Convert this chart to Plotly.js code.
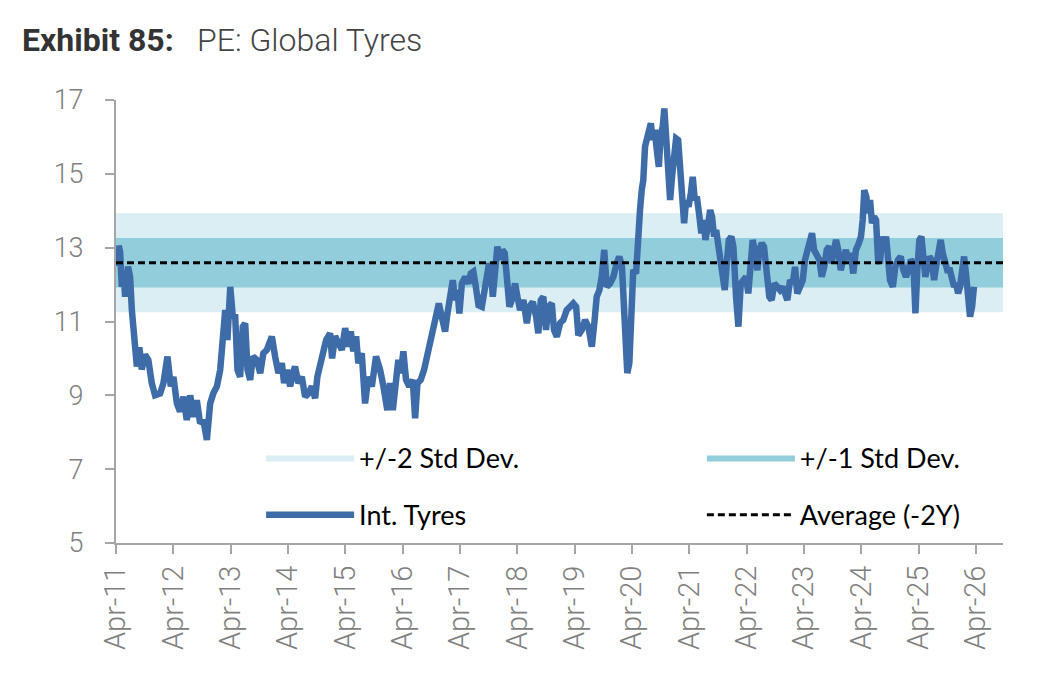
<!DOCTYPE html>
<html>
<head>
<meta charset="utf-8">
<script src="https://cdn.plot.ly/plotly-3.0.1.min.js"></script>
<style>
html,body{margin:0;padding:0;background:#fff;}
#chart{width:1042px;height:690px;}
</style>
</head>
<body>
<div id="chart"></div>
<script>
// ---- Data (decimal years, PE values) ----
const yearFrac = [
  2011.267, 2011.294, 2011.320, 2011.349, 2011.381, 2011.407, 2011.459, 2011.494, 2011.524, 2011.552,
  2011.581, 2011.611, 2011.656, 2011.698, 2011.756, 2011.813, 2011.873, 2011.930, 2012.017, 2012.075,
  2012.145, 2012.204, 2012.249, 2012.309, 2012.366, 2012.424, 2012.483, 2012.541, 2012.598, 2012.658,
  2012.715, 2012.773, 2012.832, 2012.890, 2012.947, 2013.007, 2013.064, 2013.111, 2013.151, 2013.191,
  2013.239, 2013.286, 2013.326, 2013.366, 2013.413, 2013.460, 2013.500, 2013.540, 2013.587, 2013.634,
  2013.704, 2013.762, 2013.819, 2013.879, 2013.924, 2013.966, 2014.023, 2014.081, 2014.140, 2014.180,
  2014.228, 2014.285, 2014.332, 2014.372, 2014.430, 2014.489, 2014.547, 2014.604, 2014.664, 2014.721,
  2014.761, 2014.808, 2014.855, 2014.913, 2014.983,
  2015.018, 2015.070, 2015.128, 2015.187, 2015.244, 2015.302, 2015.344, 2015.389, 2015.436, 2015.476,
  2015.536, 2015.593, 2015.651, 2015.710, 2015.785, 2015.855, 2015.913, 2015.982, 2016.029, 2016.077,
  2016.134, 2016.174, 2016.216, 2016.261, 2016.308, 2016.366, 2016.425, 2016.465, 2016.506, 2016.565,
  2016.622, 2016.680, 2016.727, 2016.774, 2016.832, 2016.879, 2016.931, 2016.989, 2017.029, 2017.076,
  2017.123, 2017.163, 2017.203, 2017.238, 2017.280, 2017.338, 2017.395, 2017.437, 2017.482, 2017.524,
  2017.570, 2017.629, 2017.669, 2017.716, 2017.756, 2017.791, 2017.821, 2017.861, 2017.901, 2017.948,
  2017.988, 2018.030, 2018.065, 2018.110, 2018.152, 2018.210, 2018.250, 2018.297, 2018.355, 2018.414,
  2018.459, 2018.518, 2018.576, 2018.616, 2018.658,
  2018.703, 2018.750, 2018.791, 2018.850, 2018.890, 2018.937, 2018.995, 2019.052, 2019.112, 2019.169,
  2019.227, 2019.274, 2019.314, 2019.373, 2019.431, 2019.488, 2019.548, 2019.593, 2019.635, 2019.680,
  2019.722, 2019.767, 2019.809, 2019.867, 2019.925, 2019.984, 2020.029, 2020.076, 2020.111, 2020.146,
  2020.169, 2020.203, 2020.238, 2020.273, 2020.320, 2020.355, 2020.390, 2020.420, 2020.448, 2020.477,
  2020.507, 2020.542, 2020.577, 2020.612, 2020.646, 2020.681, 2020.716, 2020.751, 2020.786, 2020.814,
  2020.844, 2020.879, 2020.913, 2020.948, 2020.983, 2021.018, 2021.053, 2021.088, 2021.117, 2021.158,
  2021.193, 2021.233, 2021.274, 2021.309, 2021.344, 2021.379, 2021.419, 2021.459, 2021.494, 2021.529,
  2021.571, 2021.611, 2021.646, 2021.681, 2021.716, 2021.751, 2021.798, 2021.833, 2021.868, 2021.902,
  2021.937, 2021.983, 2022.018, 2022.065, 2022.105,
  2022.147, 2022.192, 2022.239, 2022.279, 2022.321, 2022.356, 2022.396, 2022.436, 2022.471, 2022.513,
  2022.553, 2022.600, 2022.646, 2022.687, 2022.733, 2022.785, 2022.832, 2022.879, 2022.925, 2022.960,
  2023.007, 2023.054, 2023.094, 2023.134, 2023.181, 2023.228, 2023.268, 2023.308, 2023.355, 2023.390,
  2023.425, 2023.472, 2023.518, 2023.560, 2023.605, 2023.647, 2023.692, 2023.734, 2023.774, 2023.809,
  2023.849, 2023.891, 2023.936, 2023.983, 2024.023, 2024.065, 2024.111, 2024.158, 2024.205, 2024.245,
  2024.274, 2024.302, 2024.337, 2024.367, 2024.402, 2024.437, 2024.472, 2024.507, 2024.542, 2024.576,
  2024.611, 2024.646, 2024.681, 2024.716, 2024.751, 2024.798, 2024.843, 2024.890, 2024.937, 2024.983,
  2025.030, 2025.070, 2025.112, 2025.157, 2025.192, 2025.227, 2025.262, 2025.297, 2025.332, 2025.367,
  2025.402, 2025.436, 2025.478, 2025.518, 2025.553, 2025.593, 2025.635, 2025.670, 2025.710, 2025.750,
  2025.797, 2025.832, 2025.867, 2025.902, 2025.937, 2025.972, 2026.007, 2026.042, 2026.076, 2026.111,
  2026.146, 2026.181, 2026.216
];

const peTyres = [
  12.5, 13.05, 12.9, 11.94, 12.3, 11.67, 12.49, 12.2, 11.31, 10.77,
  9.87, 9.78, 10.3, 9.7, 10.1, 9.96, 9.33, 9.0, 9.05, 9.33,
  10.05, 9.24, 9.5, 8.78, 8.56, 8.96, 8.33, 9.0, 8.42, 8.87,
  8.24, 8.33, 7.79, 8.78, 9.06, 9.24, 9.69, 10.41, 11.31, 10.5,
  11.94, 11.1, 11.2, 9.69, 9.5, 10.86, 10.95, 9.69, 9.42, 10.05,
  9.96, 9.6, 10.14, 10.23, 10.45, 10.59, 10.05, 9.6, 9.87, 9.33,
  9.69, 9.24, 9.6, 9.78, 9.33, 9.5, 8.96, 9.05, 9.24, 8.92,
  9.5, 9.87, 10.23, 10.5, 10.68,
  10.0, 10.6, 10.4, 10.23, 10.82, 10.32, 10.73, 10.19, 10.6, 9.87,
  10.14, 8.78, 9.5, 9.24, 10.05, 9.69, 9.24, 8.6, 9.33, 8.6,
  9.42, 9.96, 9.6, 10.19, 9.42, 9.24, 9.42, 8.38, 9.33, 9.42,
  9.69, 10.14, 10.41, 10.68, 11.13, 11.49, 11.13, 10.73, 11.22, 11.85,
  12.12, 11.58, 11.85, 11.22, 12.03, 12.21, 12.03, 12.3, 12.35, 11.94,
  11.44, 11.4, 11.94, 12.21, 12.58, 12.3, 11.67, 12.49, 13.03, 12.67,
  12.94, 12.85, 12.12, 11.4, 11.58, 12.03, 11.67, 11.31, 11.58, 10.95,
  11.4, 11.53, 11.13, 10.68, 11.58,
  11.67, 10.77, 11.4, 11.49, 10.77, 10.59, 10.96, 11.04, 11.31, 11.4,
  11.49, 11.4, 10.63, 10.77, 11.04, 10.86, 10.32, 10.96, 11.67, 11.85,
  12.21, 12.94, 11.94, 12.03, 12.21, 12.58, 12.76, 12.49, 11.4, 10.23,
  9.6, 9.87, 11.31, 12.4, 12.3, 13.66, 14.02, 14.56, 14.83, 15.74,
  15.92, 16.28, 16.37, 15.92, 16.19, 15.65, 15.19, 16.1, 16.28, 16.77,
  16.19, 15.29, 14.29, 14.92, 15.47, 15.96, 15.92, 14.92, 14.11, 13.66,
  14.29, 14.11, 14.47, 14.92, 14.29, 14.38, 13.93, 13.39, 13.75, 13.21,
  13.57, 14.02, 13.84, 13.3, 13.48, 13.03, 12.67, 12.03, 11.85, 12.58,
  13.21, 13.3, 13.03, 11.67, 10.86,
  12.03, 12.12, 12.21, 11.76, 12.39, 13.21, 12.85, 12.39, 12.94, 13.12,
  13.03, 12.21, 11.67, 11.58, 12.03, 11.94, 11.85, 11.94, 11.67, 11.58,
  12.12, 12.03, 12.48, 11.76, 11.94, 12.12, 12.67, 12.94, 13.3, 13.39,
  12.94, 12.76, 12.67, 12.21, 12.48, 12.94, 13.03, 12.58, 13.03, 13.21,
  12.94, 12.39, 12.67, 12.94, 12.67, 12.85, 12.3, 12.94, 13.12, 13.3,
  13.75, 14.56, 14.38, 13.93, 14.29, 13.66, 13.84, 13.75, 12.67, 12.58,
  13.3, 13.03, 13.3, 12.76, 12.12, 11.94, 12.48, 12.67, 12.76, 12.39,
  12.21, 12.39, 12.67, 12.58, 11.22, 12.39, 13.21, 13.3, 12.58, 12.21,
  12.48, 12.76, 12.67, 12.12, 12.48, 12.76, 13.21, 12.85, 12.48, 12.39,
  12.39, 12.12, 11.94, 12.03, 11.76, 11.94, 12.39, 12.76, 12.3, 11.49,
  11.13, 11.4, 11.94
];

// Band statistics (average and standard deviation)
const avgPE = 12.59;
const stdPE = 0.67;
const bandRange = ['2011-04-01', '2026-09-21'];

const seriesNames = ['+/-2 Std Dev.', '+/-1 Std Dev.', 'Int. Tyres', 'Average (-2Y)'];

// ---- helpers ----
function toDate(y) {
  const yr = Math.floor(y);
  const s = Date.UTC(yr, 0, 1), e = Date.UTC(yr + 1, 0, 1);
  return new Date(s + (y - yr) * (e - s)).toISOString().slice(0, 10);
}
const dates = yearFrac.map(toDate);

function band(k) {
  const hi = avgPE + k * stdPE, lo = avgPE - k * stdPE;
  return {
    x: [bandRange[0], bandRange[1], bandRange[1], bandRange[0]],
    y: [hi, hi, lo, lo]
  };
}
const b2 = band(2), b1 = band(1);

const legendFont = {family: 'Lato, "Open Sans", sans-serif', size: 27, color: '#000'};

const traces = [
  {type: 'scatter', mode: 'lines', x: b2.x, y: b2.y, fill: 'toself', fillcolor: '#DAEEF3',
   line: {width: 0, color: '#DAEEF3'}, name: seriesNames[0], legend: 'legend', hoverinfo: 'skip'},
  {type: 'scatter', mode: 'lines', x: b1.x, y: b1.y, fill: 'toself', fillcolor: '#92CDDC',
   line: {width: 0, color: '#92CDDC'}, name: seriesNames[1], legend: 'legend2', hoverinfo: 'skip'},
  {type: 'scatter', mode: 'lines', x: dates, y: peTyres, name: seriesNames[2], legend: 'legend3',
   line: {color: '#3D6CA8', width: 6.5}},
  {type: 'scatter', mode: 'lines', x: bandRange, y: [avgPE, avgPE], name: seriesNames[3], legend: 'legend4',
   line: {color: '#000', width: 3, dash: '7px,4px'}}
];

const tickFont = {family: 'Roboto, sans-serif', size: 27, color: '#808080', weight: 300};

function leg(x, y) {
  return {x: x, y: y, xanchor: 'left', yanchor: 'middle', xref: 'paper', yref: 'paper',
          bgcolor: 'rgba(0,0,0,0)', borderwidth: 0, font: legendFont, itemwidth: 88};
}

const layout = {
  width: 1042, height: 690,
  margin: {l: 116, r: 39, t: 100, b: 147},
  paper_bgcolor: '#fff', plot_bgcolor: '#fff',
  title: {
    text: '<b><span style="color:#333">Exhibit 85:</span></b>\u00a0\u00a0\u00a0PE: Global Tyres',
    font: {family: 'Roboto, sans-serif', size: 32, color: '#444', weight: 300},
    x: 22 / 1042, xref: 'container', xanchor: 'left',
    y: 1 - 40 / 690, yref: 'container', yanchor: 'middle'
  },
  showlegend: true,
  legend: leg(0.1636, 0.192),
  legend2: leg(0.6605, 0.192),
  legend3: leg(0.1636, 0.063),
  legend4: leg(0.6605, 0.063),
  xaxis: {
    type: 'date', range: bandRange,
    tick0: '2011-04-01', dtick: 'M12', tickformat: '%b-%y', tickangle: -90,
    showgrid: false, zeroline: false,
    showline: true, linecolor: '#A6A6A6', linewidth: 2,
    ticks: 'outside', ticklen: 9, tickwidth: 2, tickcolor: '#A6A6A6',
    tickfont: Object.assign({}, tickFont, {size: 29})
  },
  yaxis: {
    range: [5, 17], tick0: 5, dtick: 2,
    showgrid: false, zeroline: false,
    showline: true, linecolor: '#A6A6A6', linewidth: 2,
    ticks: 'outside', ticklen: 9, tickwidth: 2, tickcolor: '#A6A6A6',
    tickfont: tickFont, ticklabelstandoff: 16
  }
};

Plotly.newPlot('chart', traces, layout, {displayModeBar: false, staticPlot: true});
</script>
</body>
</html>
